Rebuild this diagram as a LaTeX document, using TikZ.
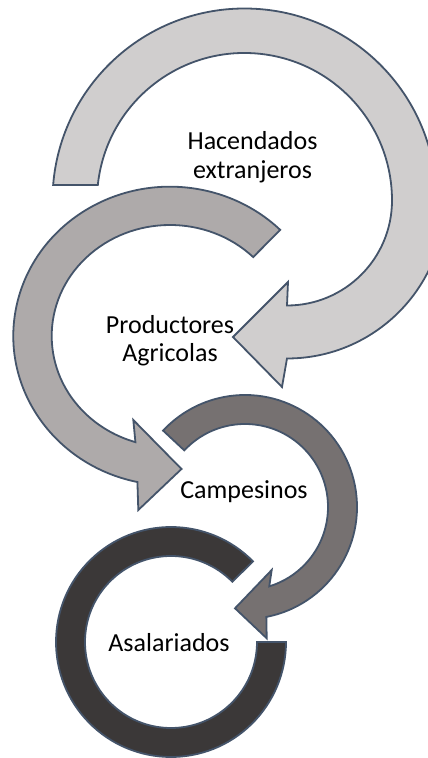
\documentclass[tikz,border=0pt]{standalone}
\usepackage{fontspec}
\setmainfont{Carlito}
\definecolor{grisA}{HTML}{D0CECE}
\definecolor{grisB}{HTML}{AEAAAA}
\definecolor{grisC}{HTML}{767171}
\definecolor{grisD}{HTML}{3B3838}
\definecolor{borde}{HTML}{44546A}
\begin{document}
\begin{tikzpicture}[x=1pt, y=1pt, flecha/.style = {draw=borde, line width=1.8pt}, texto/.style = {font=\fontsize{26}{28.5}\selectfont, align=center, anchor=base}]
\useasboundingbox (0,0) rectangle (428,758);
\clip (0,0) rectangle (428,758);
\coordinate (c1) at (244.5,557.5);
\coordinate (c2) at (170,422);
\coordinate (c3) at (245,251);
\coordinate (c4) at (171,116);
\draw[flecha, fill=grisA] ([shift={(175.4:192)}]c1) -- ([shift={(174:147.5)}]c1)
  arc[start angle=174, end angle=0, radius=147.5]
  arc[start angle=0, end angle=-90, radius=105]
  -- (288,476) -- (233,421) -- (282,371) -- (287,399.5)
  arc[start angle=-90, end angle=0, radius=158]
  -- ([shift={(0:192)}]c1)
  arc[start angle=0, end angle=175.4, radius=192] -- cycle;
\draw[flecha, fill=grisB] ([shift={(45.3:156.7 and 149.3)}]c2) -- ([shift={(45.3:118.3 and 111)}]c2)
  arc[start angle=45.3, end angle=253, x radius=118.3, y radius=111]
  -- (133.3,338) -- (181.5,289) -- (138.3,248) -- ([shift={(258:156.7 and 149.3)}]c2)
  arc[start angle=258, end angle=45.3, x radius=156.7, y radius=149.3] -- cycle;
\draw[flecha, fill=grisC] ([shift={(137:112)}]c3) -- ([shift={(137:83)}]c3)
  arc[start angle=137, end angle=-73, radius=83]
  -- (271.7,188) -- (235,149.7) -- (266.7,119.7) -- ([shift={(-79:112)}]c3)
  arc[start angle=-79, end angle=137, radius=112] -- cycle;
\draw[flecha, fill=grisD] ([shift={(0:115)}]c4) -- ([shift={(0:86)}]c4)
  arc[start angle=0, end angle=-315.5, radius=86]
  -- ([shift={(44.5:115)}]c4)
  arc[start angle=44.5, end angle=360, radius=115] -- cycle;
\node[texto] (hacendados) at (252.5,579.5) {Hacendados\\extranjeros};
\node[texto] (productores) at (170,396.1) {Productores\\Agricolas};
\node[texto] (campesinos) at (244,259.6) {Campesinos};
\node[texto] (asalariados) at (169,106.3) {Asalariados};
\end{tikzpicture}
\end{document}
